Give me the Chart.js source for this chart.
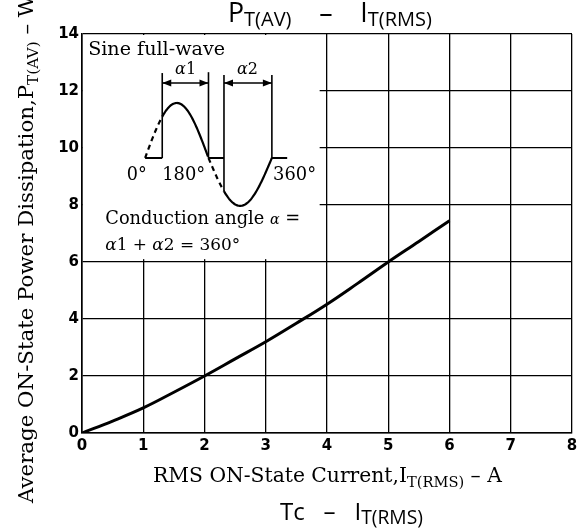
<!DOCTYPE html>
<html>
<head>
<meta charset="utf-8">
<script src="https://cdn.jsdelivr.net/npm/chart.js@4.4.0/dist/chart.umd.min.js"></script>
<style>
  html, body { margin: 0; padding: 0; background: #fff; }
  #wrap { width: 587px; height: 529px; }
</style>
</head>
<body>
<div id="wrap"><canvas id="chart"></canvas></div>
<script>
// RMS on-state current (A) and average power dissipation (W)
const currentA = [0, 0.5, 1, 1.5, 2, 2.5, 3, 3.5, 4, 4.5, 5, 5.5, 6];
const powerW   = [0, 0.42, 0.88, 1.43, 2.0, 2.6, 3.2, 3.85, 4.52, 5.25, 6.0, 6.72, 7.45];

const xMin = 0, xMax = 8, xStep = 1;
const yMin = 0, yMax = 14, yStep = 2;

const serif = "'DejaVu Serif'";
const sans = "'Open Sans'";

// draw text made of parts [text, relSize, dy, style] stretched to a target width
function fitText(ctx, parts, x, y, width, family, align) {
  const base = 20;
  const font = (p, s) => (p[3] ? p[3] + ' ' : '') + s + 'px ' + family;
  let w = 0;
  parts.forEach(p => { ctx.font = font(p, base * p[1]); w += ctx.measureText(p[0]).width; });
  const k = width / w;
  let cx = align === 'center' ? x - width / 2 : x;
  parts.forEach(p => {
    ctx.font = font(p, base * p[1] * k);
    ctx.fillText(p[0], cx, y + (p[2] || 0));
    cx += ctx.measureText(p[0]).width;
  });
}

function arrowHead(ctx, x, y, dir) {
  ctx.beginPath();
  ctx.moveTo(x, y);
  ctx.lineTo(x - dir * 9, y - 3.5);
  ctx.lineTo(x - dir * 9, y + 3.5);
  ctx.closePath();
  ctx.fill();
}

// blank the grid behind the inset sketch
const maskPlugin = {
  id: 'mask',
  beforeDatasetsDraw(chart) {
    const { ctx, scales: { x, y } } = chart;
    ctx.save();
    ctx.fillStyle = '#fff';
    const l = x.getPixelForValue(0) + 1, r = x.getPixelForValue(3.88);
    const t = y.getPixelForValue(14) + 1, b = y.getPixelForValue(6.1);
    ctx.fillRect(l, t, r - l, b - t);
    ctx.restore();
  }
};

const textPlugin = {
  id: 'texts',
  afterDraw(chart) {
    const { ctx, scales: { x, y } } = chart;
    const px = v => x.getPixelForValue(v);
    const py = v => y.getPixelForValue(v);
    ctx.save();
    ctx.fillStyle = '#000';
    ctx.strokeStyle = '#000';
    ctx.textBaseline = 'alphabetic';
    ctx.textAlign = 'left';

    // title
    fitText(ctx, [['P', 1], ['T(AV)', 0.75, 4], ['    \u2013    ', 1], ['I', 1], ['T(RMS)', 0.75, 4]],
      330, 22, 204, sans, 'center');
    // x axis title
    fitText(ctx, [['RMS ON-State Current,I', 1], ['T(RMS)', 0.72, 5], [' \u2013 A', 1]],
      153, 482, 349, serif, 'left');
    // bottom caption
    fitText(ctx, [['Tc', 1], ['   \u2013   ', 1], ['I', 1], ['T(RMS)', 0.8, 4]],
      280, 520, 143, sans, 'left');
    // y axis title
    ctx.save();
    ctx.translate(33, 503);
    ctx.rotate(-Math.PI / 2);
    fitText(ctx, [['Average ON-State Power Dissipation,P', 1], ['T(AV)', 0.72, 5], [' \u2013 W', 1]],
      0, 0, 508, serif, 'left');
    ctx.restore();

    // inset: sine full-wave sketch
    const base = 9.65, x0 = 1.03, x360 = 3.10;
    const wx = ph => x0 + ph / 360 * (x360 - x0);
    const wy = ph => base + (ph <= 180 ? 1.93 : 1.68) * Math.sin(ph * Math.PI / 180);
    const wave = (a, b, dashed) => {
      ctx.setLineDash(dashed ? [5, 4] : []);
      ctx.lineWidth = 2.2;
      ctx.beginPath();
      for (let ph = a; ph <= b + 0.001; ph += 2) {
        const X = px(wx(ph)), Y = py(wy(ph));
        if (ph === a) ctx.moveTo(X, Y); else ctx.lineTo(X, Y);
      }
      ctx.stroke();
    };
    const fire1 = 48.7, fire2 = 224;
    wave(0, fire1, true);
    wave(fire1, 180, false);
    wave(180, fire2, true);
    wave(fire2, 360, false);
    ctx.setLineDash([]);
    const seg = (xa, ya, xb, yb, w) => {
      ctx.lineWidth = w;
      ctx.beginPath();
      ctx.moveTo(px(xa), py(ya));
      ctx.lineTo(px(xb), py(yb));
      ctx.stroke();
    };
    seg(x0, base, wx(fire1), base, 2);
    seg(wx(180), base, wx(fire2), base, 2);
    seg(x360, base, 3.35, base, 2);
    seg(wx(fire1), base, wx(fire1), 12.63, 1.6);
    seg(wx(180), base, wx(180), 12.66, 1.6);
    seg(wx(fire2), wy(fire2), wx(fire2), 12.56, 1.6);
    seg(x360, base, x360, 12.56, 1.6);
    // arrows
    const ay = 12.28;
    seg(wx(fire1), ay, wx(180), ay, 1.4);
    seg(wx(fire2), ay, x360, ay, 1.4);
    arrowHead(ctx, px(wx(fire1)), py(ay), -1);
    arrowHead(ctx, px(wx(180)), py(ay), 1);
    arrowHead(ctx, px(wx(fire2)), py(ay), -1);
    arrowHead(ctx, px(x360), py(ay), 1);

    // inset texts
    fitText(ctx, [['Sine full-wave', 1]], px(0.10), py(13.26), 137, serif, 'left');
    fitText(ctx, [['\u03b1', 1, 0, 'italic'], ['1', 1]], px(1.52), py(12.58), 21, serif, 'left');
    fitText(ctx, [['\u03b1', 1, 0, 'italic'], ['2', 1]], px(2.53), py(12.58), 21, serif, 'left');
    fitText(ctx, [['0\u00b0', 1]], px(0.73), py(8.88), 20, serif, 'left');
    fitText(ctx, [['180\u00b0', 1]], px(1.31), py(8.88), 43, serif, 'left');
    fitText(ctx, [['360\u00b0', 1]], px(3.12), py(8.88), 43, serif, 'left');
    fitText(ctx, [['Conduction angle ', 1], ['\u03b1', 0.8, 0, 'italic'], [' =', 1]],
      px(0.38), py(7.33), 195, serif, 'left');
    fitText(ctx, [['\u03b1', 1, 0, 'italic'], ['1 + ', 1], ['\u03b1', 1, 0, 'italic'], ['2 = 360\u00b0', 1]],
      px(0.38), py(6.42), 135, serif, 'left');
    ctx.restore();
  }
};

const ctx = document.getElementById('chart').getContext('2d');
new Chart(ctx, {
  type: 'line',
  data: {
    datasets: [{
      data: currentA.map((c, i) => ({ x: c, y: powerW[i] })),
      borderColor: '#000',
      borderWidth: 3,
      pointRadius: 0,
      tension: 0.4,
      fill: false
    }]
  },
  options: {
    responsive: true,
    maintainAspectRatio: false,
    animation: false,
    layout: { padding: { top: 34, right: 15, left: 0, bottom: 0 } },
    plugins: { legend: { display: false }, tooltip: { enabled: false }, title: { display: false } },
    scales: {
      x: {
        type: 'linear', min: xMin, max: xMax,
        ticks: { stepSize: xStep, color: '#000', padding: 4, font: { family: 'DejaVu Sans', size: 15, weight: 'bold' } },
        grid: { color: '#000', lineWidth: 1.3, drawTicks: false },
        border: { color: '#000', width: 1.6 },
        afterFit: s => { s.height = 96; }
      },
      y: {
        type: 'linear', min: yMin, max: yMax,
        ticks: { stepSize: yStep, color: '#000', padding: 3, font: { family: 'DejaVu Sans', size: 15, weight: 'bold' } },
        grid: { color: '#000', lineWidth: 1.3, drawTicks: false },
        border: { color: '#000', width: 1.6 },
        afterFit: s => { s.width = 82; }
      }
    }
  },
  plugins: [maskPlugin, textPlugin]
});
</script>
</body>
</html>
